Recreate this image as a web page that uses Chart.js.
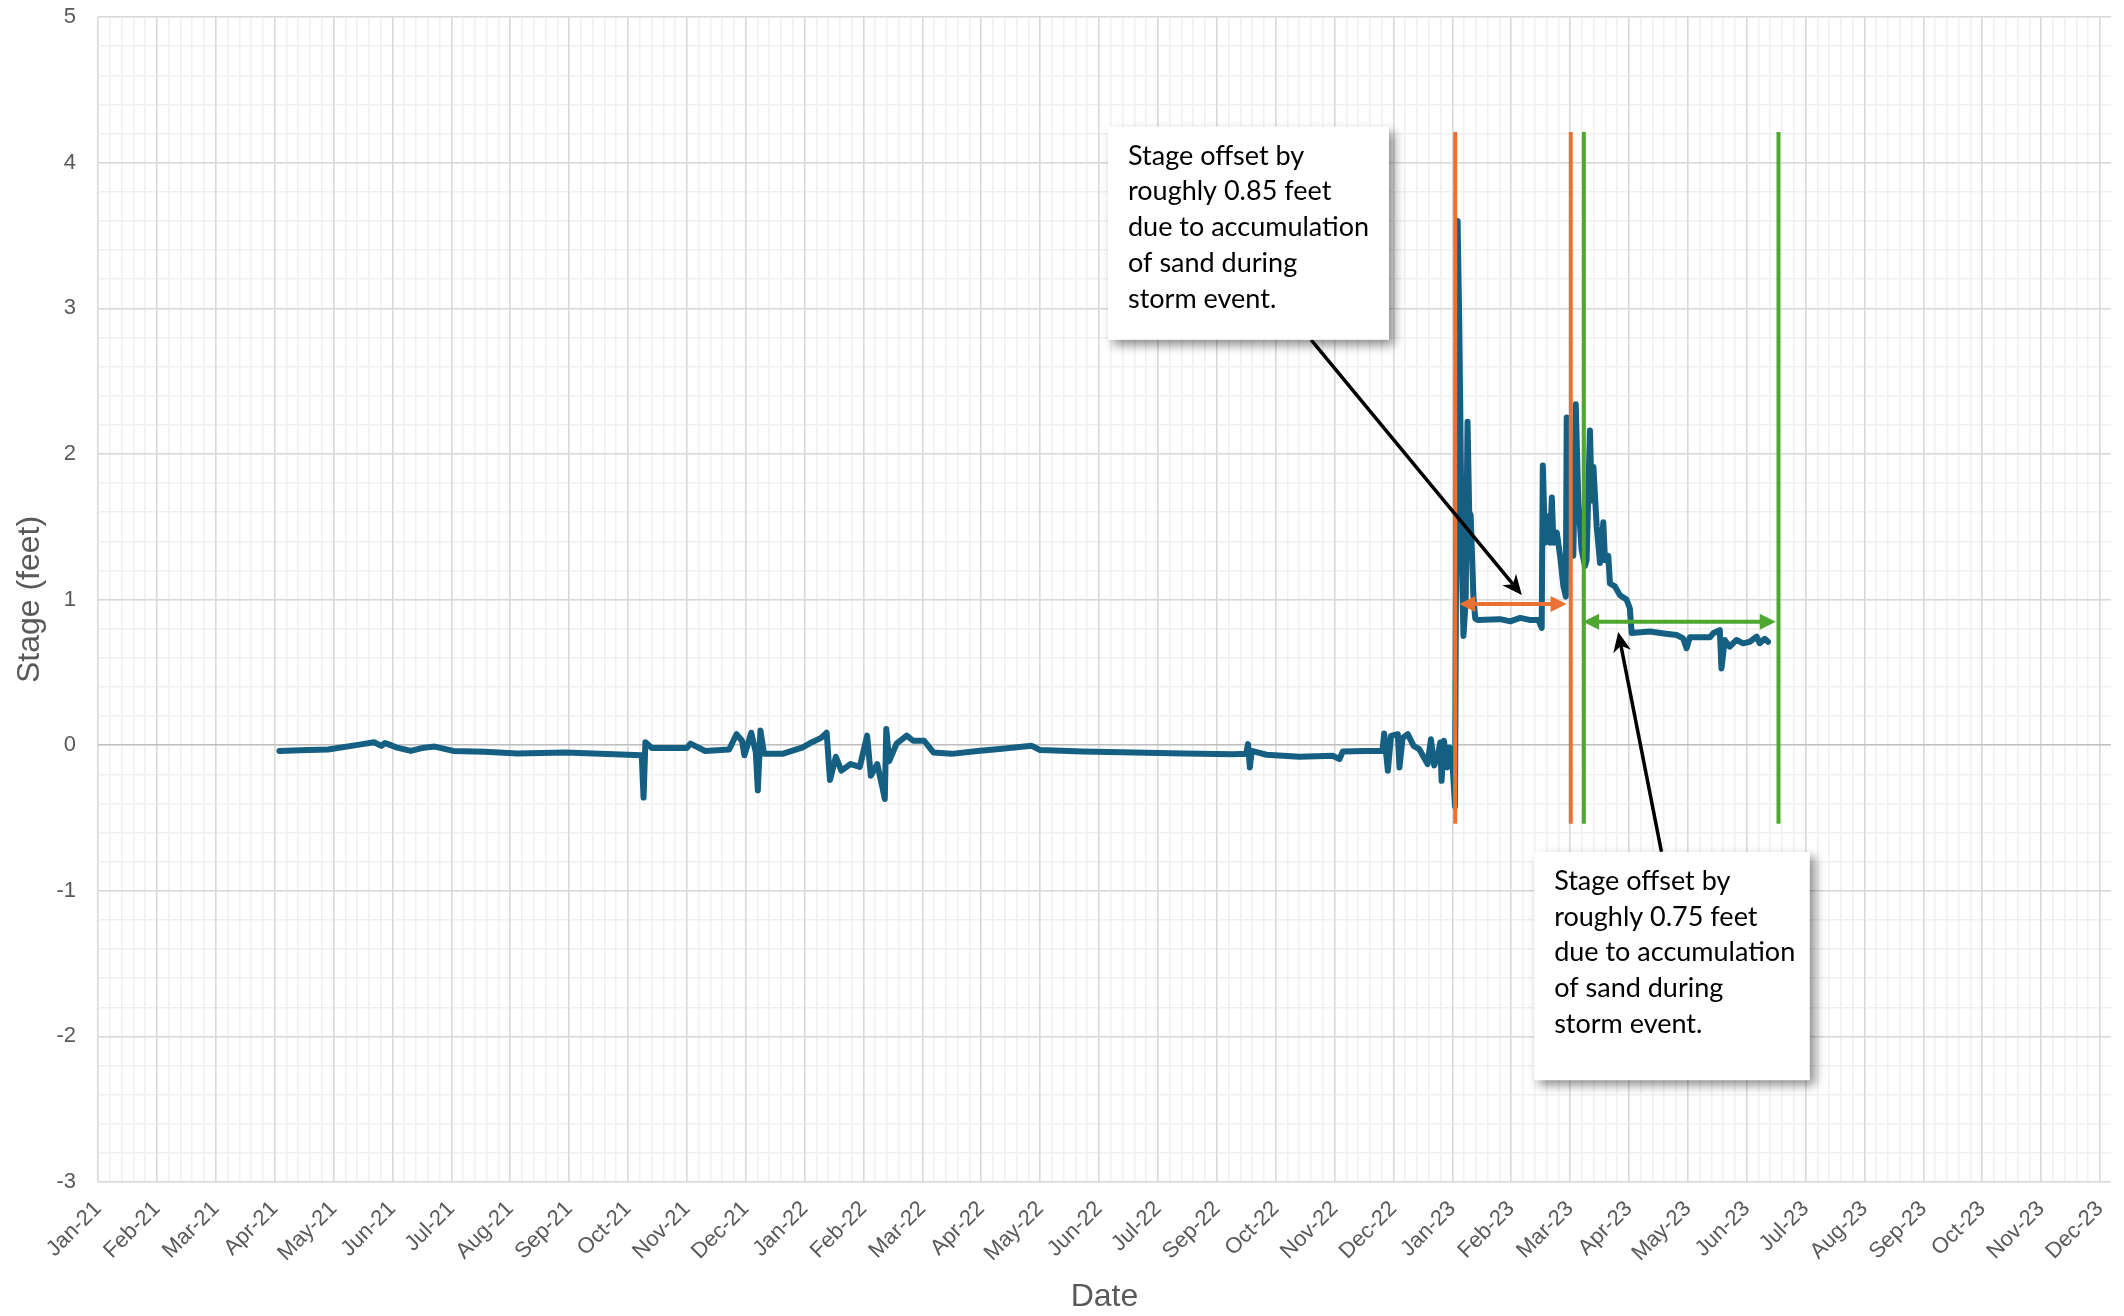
<!DOCTYPE html>
<html>
<head>
<meta charset="utf-8">
<title>Stage (feet)</title>
<script src="https://cdn.jsdelivr.net/npm/chart.js@4.4.1/dist/chart.umd.min.js"></script>
<style>
  html, body { margin: 0; padding: 0; background: #ffffff; }
  #wrap { width: 2124px; height: 1316px; }
</style>
</head>
<body>
<div id="wrap"><canvas id="stage-chart" width="2124" height="1316"></canvas></div>
<script>
// Stage record, days counted from 1 Jan 2021 (day 0)
const stageDays = [
  98.6, 110, 125, 143, 150, 154, 156, 159, 162, 170, 176, 183, 193, 210, 228, 254, 288,
  295.5, 296.5, 297.5, 301, 320, 322, 330, 343, 347, 350, 351.3, 355, 357.5, 358.6, 360,
  362, 372, 383, 388, 393, 396, 397.8, 401, 404, 409, 414, 418, 420, 423.5, 426.3,
  427.6, 428.4, 430, 434, 439.5, 443, 449, 454, 464, 478, 490, 507.5, 512, 535, 563,
  590, 617, 624, 625, 626, 627, 635, 653, 671, 674.7, 676.5, 689, 698, 699, 701,
  702.7, 706.4, 707.3, 709, 711.8, 715, 718, 722.6, 724.4, 726.2, 728, 729.5, 730.2, 731.5, 733.3,
  734.5, 736, 737.5, 738.9, 739.8, 740.5, 741.3, 742.1, 743.3, 744.3, 745.2, 746, 747.5, 748.5, 749.7,
  762, 767.5, 772.9, 778, 782.8, 784.6, 785.2, 786.4, 787.9, 789.2, 790.1, 791, 792.8, 794.6, 796.4,
  797.7, 798.2, 799.5, 801.8, 803.1, 804.5, 806.3, 808.1, 809, 810.8, 811.8, 812.7, 814.5, 816.3, 818.1,
  819, 820.8, 821.7, 824.4, 827.1, 830.7, 832.5, 833.5, 843.4, 852, 857.9, 861.5, 863.3, 865.1, 876,
  877.8, 881.4, 882.3, 884.1, 886.8, 890.5, 894.1, 897.7, 901.4, 903.1, 905.8, 907.6
];
const stageFeet = [
  -0.04, -0.035, -0.03, 0.005, 0.02, -0.005, 0.015, 0.0, -0.015, -0.04, -0.02, -0.01, -0.04, -0.045, -0.057, -0.05, -0.066,
  -0.07, -0.36, 0.02, -0.02, -0.02, 0.01, -0.04, -0.03, 0.075, 0.03, -0.07, 0.085, -0.05, -0.31, 0.1,
  -0.06, -0.06, -0.015, 0.02, 0.05, 0.085, -0.24, -0.08, -0.175, -0.13, -0.15, 0.065, -0.21, -0.13, -0.29,
  -0.37, 0.11, -0.11, 0.01, 0.065, 0.03, 0.03, -0.05, -0.06, -0.04, -0.027, -0.005, -0.034, -0.044, -0.05,
  -0.057, -0.062, -0.06, 0.007, -0.153, -0.04, -0.066, -0.08, -0.073, -0.096, -0.044, -0.04, -0.04, 0.08, -0.176,
  0.064, 0.075, -0.153, 0.05, 0.075, -0.005, -0.027, -0.13, 0.04, -0.14, -0.08, 0.018, -0.245, 0.03, -0.153,
  -0.016, -0.1, -0.42, 3.6, 2.9, 2.1, 1.2, 0.75, 1.0, 2.22, 1.6, 1.58, 1.02, 0.87, 0.86,
  0.865, 0.85, 0.874, 0.86, 0.86, 0.805, 1.92, 1.39, 1.57, 1.39, 1.7, 1.39, 1.46, 1.3, 1.09,
  1.02, 2.25, 1.5, 1.3, 2.34, 1.68, 1.34, 1.23, 1.27, 2.16, 1.68, 1.91, 1.5, 1.25, 1.53,
  1.27, 1.3, 1.11, 1.09, 1.03, 1.0, 0.94, 0.77, 0.78, 0.765, 0.756, 0.733, 0.665, 0.74, 0.74,
  0.768, 0.79, 0.527, 0.722, 0.676, 0.722, 0.699, 0.71, 0.745, 0.7, 0.73, 0.71
];

// marker lines (day), offset spans (start day, end day, level in feet)
const orangeMarkerDays = [737.6, 800.4];
const greenMarkerDays = [807.5, 913.3];
const markerRange = [-0.54, 4.21];
const orangeSpan = [739.8, 798.1, 0.969];
const greenSpan = [807.1, 911.8, 0.847];

// callout texts
const calloutOne = ['Stage offset by', 'roughly 0.85 feet', 'due to accumulation', 'of sand during', 'storm event.'];
const calloutTwo = ['Stage offset by', 'roughly 0.75 feet', 'due to accumulation', 'of sand during', 'storm event.'];

const MONTHS = ['Jan', 'Feb', 'Mar', 'Apr', 'May', 'Jun', 'Jul', 'Aug', 'Sep', 'Oct', 'Nov', 'Dec'];
const X_MIN = 0, X_MAX = 1094; // 1 Jan 2021 .. 31 Dec 2023
const Y_MIN = -3, Y_MAX = 5;
const GREY = '#595959';
const TICK_FONT = { family: '"Liberation Sans", Arial, sans-serif', size: 22 };
const TITLE_FONT = { family: '"Liberation Sans", Arial, sans-serif', size: 32 };

function dayLabel(d) {
  const dt = new Date(Date.UTC(2021, 0, 1) + Math.round(d) * 86400000);
  return MONTHS[dt.getUTCMonth()] + '-' + String(dt.getUTCFullYear()).slice(2);
}

// x ticks every 32 days (5 minor steps), y ticks every 1 (5 minor steps)
function xTicks(step) {
  const out = [];
  for (let i = 0; i * step <= X_MAX + 1e-6; i++) out.push({ value: i * step });
  return out;
}
function yTicks(parts) {
  const out = [];
  for (let i = Y_MIN * parts; i <= Y_MAX * parts; i++) out.push({ value: i / parts });
  return out;
}

function markerSet(day, color) {
  return {
    data: [{ x: day, y: markerRange[0] }, { x: day, y: markerRange[1] }],
    borderColor: color, borderWidth: 4, pointRadius: 0, order: 1,
    xAxisID: 'x', yAxisID: 'y'
  };
}

function doubleArrow(ctx, x1, x2, y, color) {
  const len = 16, half = 8;
  ctx.save();
  ctx.strokeStyle = color; ctx.fillStyle = color; ctx.lineWidth = 4;
  ctx.beginPath(); ctx.moveTo(x1 + len - 2, y); ctx.lineTo(x2 - len + 2, y); ctx.stroke();
  ctx.beginPath(); ctx.moveTo(x1, y); ctx.lineTo(x1 + len, y - half); ctx.lineTo(x1 + len, y + half); ctx.closePath(); ctx.fill();
  ctx.beginPath(); ctx.moveTo(x2, y); ctx.lineTo(x2 - len, y - half); ctx.lineTo(x2 - len, y + half); ctx.closePath(); ctx.fill();
  ctx.restore();
}

function pointerArrow(ctx, sx, sy, ex, ey) {
  const ang = Math.atan2(ey - sy, ex - sx);
  const len = 20, half = 9, notch = 6;
  const bx = ex - Math.cos(ang) * len, by = ey - Math.sin(ang) * len;
  const nx = ex - Math.cos(ang) * (len - notch), ny = ey - Math.sin(ang) * (len - notch);
  ctx.save();
  ctx.strokeStyle = '#000'; ctx.fillStyle = '#000'; ctx.lineWidth = 3.5;
  ctx.beginPath(); ctx.moveTo(sx, sy); ctx.lineTo(nx, ny); ctx.stroke();
  ctx.beginPath();
  ctx.moveTo(ex, ey);
  ctx.lineTo(bx - Math.sin(ang) * half, by + Math.cos(ang) * half);
  ctx.lineTo(nx, ny);
  ctx.lineTo(bx + Math.sin(ang) * half, by - Math.cos(ang) * half);
  ctx.closePath(); ctx.fill();
  ctx.restore();
}

function calloutBox(ctx, left, top, right, bottom, lines) {
  ctx.save();
  ctx.shadowColor = 'rgba(0,0,0,0.45)';
  ctx.shadowBlur = 10; ctx.shadowOffsetX = 5; ctx.shadowOffsetY = 5;
  ctx.fillStyle = '#ffffff';
  ctx.fillRect(left, top, right - left, bottom - top);
  ctx.restore();
  ctx.save();
  ctx.fillStyle = '#000000';
  ctx.font = '27px Lato, "Noto Sans", sans-serif';
  ctx.textBaseline = 'alphabetic';
  lines.forEach((t, i) => ctx.fillText(t, left + 20, top + 38 + i * 35.8));
  ctx.restore();
}

// annotations placed in data units, converted through the chart scales
const callouts = {
  id: 'callouts',
  afterDatasetsDraw(chart) {
    const { ctx, scales } = chart;
    const px = d => scales.x.getPixelForValue(d);
    const py = v => scales.y.getPixelForValue(v);
    doubleArrow(ctx, px(orangeSpan[0]), px(orangeSpan[1]), py(orangeSpan[2]), '#E97132');
    doubleArrow(ctx, px(greenSpan[0]), px(greenSpan[1]), py(greenSpan[2]), '#4EA72E');
    pointerArrow(ctx, px(659.3), py(2.783), px(773.8), py(1.031));
    pointerArrow(ctx, px(849.7), py(-0.733), px(826.2), py(0.777));
    calloutBox(ctx, px(548.9), py(4.248), px(701.6), py(2.783), calloutOne);
    calloutBox(ctx, px(780.5), py(-0.733), px(930.3), py(-2.301), calloutTwo);
  }
};

const stagePoints = stageDays.map((d, i) => ({ x: d, y: stageFeet[i] }));

new Chart(document.getElementById('stage-chart'), {
  type: 'line',
  data: {
    datasets: [
      {
        label: 'Stage',
        data: stagePoints,
        borderColor: '#156082', borderWidth: 6, pointRadius: 0,
        borderJoinStyle: 'round', borderCapStyle: 'round', tension: 0, order: 2,
        xAxisID: 'x', yAxisID: 'y'
      },
      markerSet(orangeMarkerDays[0], '#E97132'),
      markerSet(orangeMarkerDays[1], '#E97132'),
      markerSet(greenMarkerDays[0], '#4EA72E'),
      markerSet(greenMarkerDays[1], '#4EA72E')
    ]
  },
  options: {
    responsive: false,
    animation: false,
    events: [],
    layout: { padding: { top: 17, right: 13, bottom: 0, left: 0 } },
    plugins: { legend: { display: false }, tooltip: { enabled: false } },
    scales: {
      xMinor: {
        type: 'linear', position: 'bottom', min: X_MIN, max: X_MAX,
        afterBuildTicks: s => { s.ticks = xTicks(6.4); },
        ticks: { display: false },
        grid: { color: '#F0F0F0', lineWidth: 1.5, drawTicks: false, z: -4 },
        border: { display: false },
        afterFit: s => { s.height = 0; s.paddingLeft = 0; s.paddingRight = 0; }
      },
      yMinor: {
        type: 'linear', position: 'left', min: Y_MIN, max: Y_MAX,
        afterBuildTicks: s => { s.ticks = yTicks(5); },
        ticks: { display: false },
        grid: { color: '#F0F0F0', lineWidth: 1.5, drawTicks: false, z: -3 },
        border: { display: false },
        afterFit: s => { s.width = 0; s.paddingTop = 0; s.paddingBottom = 0; }
      },
      x: {
        type: 'linear', position: 'bottom', min: X_MIN, max: X_MAX,
        afterBuildTicks: s => { s.ticks = xTicks(32); },
        ticks: {
          autoSkip: false, minRotation: 45, maxRotation: 45, padding: 14,
          color: GREY, font: TICK_FONT, callback: v => dayLabel(v)
        },
        grid: { color: '#D9D9D9', lineWidth: 1.5, drawTicks: false, z: -2 },
        border: { display: false },
        title: { display: true, text: 'Date', color: GREY, font: TITLE_FONT, padding: { top: 0, bottom: 0 } },
        afterFit: s => { s.height = 134; s.paddingLeft = 0; s.paddingRight = 0; }
      },
      y: {
        type: 'linear', position: 'left', min: Y_MIN, max: Y_MAX,
        afterBuildTicks: s => { s.ticks = yTicks(1); },
        ticks: { padding: 22, color: GREY, font: TICK_FONT, callback: v => String(v) },
        grid: {
          color: c => (c.tick && c.tick.value === 0 ? '#BFBFBF' : '#D9D9D9'),
          lineWidth: 1.5, drawTicks: false, z: -1
        },
        border: { display: false },
        title: { display: true, text: 'Stage (feet)', color: GREY, font: TITLE_FONT, padding: { top: 11, bottom: 0 } },
        afterFit: s => { s.width = 98; s.paddingTop = 0; s.paddingBottom = 0; }
      }
    }
  },
  plugins: [callouts]
});
</script>
</body>
</html>
